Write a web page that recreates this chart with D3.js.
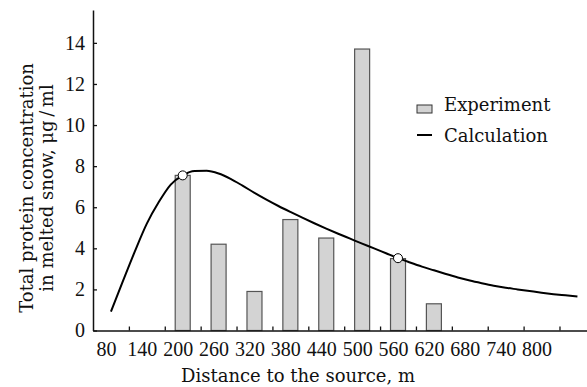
<!DOCTYPE html>
<html>
<head>
<meta charset="utf-8">
<script src="https://cdn.jsdelivr.net/npm/d3@7"></script>
<style>
  body { margin: 0; background: #fff; }
  svg { display: block; }
</style>
</head>
<body>
<figure id="chart" style="margin:0"></figure>
<script>
// x axis categories (tick labels) and boundary tick marks between them
const categories = [80, 140, 200, 260, 320, 380, 440, 500, 560, 620, 680, 740, 800];
const tickBounds = [110, 170, 230, 290, 350, 410, 470, 530, 590, 650, 710, 770, 830];
const yTicks = [0, 2, 4, 6, 8, 10, 12, 14];

// experiment bars
const barDistances = [200, 260, 320, 380, 440, 500, 560, 620];
const experiment = [7.55, 4.2, 1.9, 5.4, 4.5, 13.7, 3.5, 1.3];

// calculated curve
const calcDistances = [80, 100, 120, 140, 160, 180, 200, 220, 240, 260, 280, 300, 320, 340, 360,
  380, 400, 420, 440, 460, 480, 500, 520, 540, 560, 580, 600, 620, 640, 660, 680, 700, 720,
  740, 760, 780, 800, 820, 840, 860];
const calcValues = [0.92, 2.4, 3.85, 5.2, 6.25, 7.1, 7.55, 7.76, 7.77, 7.64, 7.38, 7.05, 6.7,
  6.37, 6.06, 5.77, 5.49, 5.22, 4.96, 4.71, 4.47, 4.23, 4.0, 3.76, 3.52, 3.31, 3.11, 2.93,
  2.75, 2.58, 2.43, 2.3, 2.18, 2.08, 2.0, 1.92, 1.84, 1.77, 1.71, 1.65];

// matched points (open circles)
const markDistances = [200, 560];
const markValues = [7.55, 3.52];

const W = 587, H = 387;
const numFont = "'Liberation Serif', 'Times New Roman', serif";
const lblFont = "'DejaVu Serif', serif";

const svg = d3.select("#chart").append("svg")
  .attr("width", W)
  .attr("height", H);

const x = d3.scaleLinear().domain([50, 876]).range([93, 587]);
const y = d3.scaleLinear().domain([0, 15.6]).range([330.5, 10]);

// bars
svg.append("g").selectAll("rect")
  .data(barDistances)
  .enter()
  .append("rect")
  .attr("x", (d) => x(d) - 7.5)
  .attr("y", (d, i) => y(experiment[i]))
  .attr("width", 15)
  .attr("height", (d, i) => y(0) - y(experiment[i]))
  .attr("fill", "#d3d3d3")
  .attr("stroke", "#555")
  .attr("stroke-width", 1.2);

// x axis: tick marks pointing up
const xAxis = svg.append("g")
  .attr("transform", "translate(0," + y(0) + ")")
  .call(d3.axisBottom(x).tickValues(tickBounds).tickSizeInner(-4).tickSizeOuter(0).tickFormat(""));
xAxis.select(".domain").attr("stroke", "#111").attr("stroke-width", 1.5);
xAxis.selectAll(".tick line").attr("stroke", "#111").attr("stroke-width", 1.3);

// x labels
const xLab = svg.append("g")
  .attr("transform", "translate(-5," + y(0) + ")")
  .call(d3.axisBottom(x).tickValues(categories).tickSize(0).tickPadding(11));
xLab.select(".domain").remove();
xLab.selectAll("text")
  .style("font-family", numFont).style("font-size", "20px").style("fill", "#111");

// y axis
const yAxis = svg.append("g")
  .attr("transform", "translate(93,0)")
  .call(d3.axisLeft(y).tickValues(yTicks).tickSizeInner(-4).tickSizeOuter(0).tickPadding(8));
yAxis.select(".domain").attr("stroke", "#111").attr("stroke-width", 1.5);
yAxis.selectAll(".tick line").attr("stroke", "#111").attr("stroke-width", 1.3);
yAxis.selectAll("text")
  .attr("x", -8)
  .style("font-family", numFont).style("font-size", "20px").style("fill", "#111");

// calculated line
const line = d3.line()
  .x((d) => x(d))
  .y((d, i) => y(calcValues[i]))
  .curve(d3.curveMonotoneX);

svg.append("path")
  .datum(calcDistances)
  .attr("d", line)
  .attr("fill", "none")
  .attr("stroke", "#000")
  .attr("stroke-width", 2);

svg.append("g").selectAll("circle")
  .data(markDistances)
  .enter()
  .append("circle")
  .attr("cx", (d) => x(d))
  .attr("cy", (d, i) => y(markValues[i]))
  .attr("r", 4.5)
  .attr("fill", "#fff")
  .attr("stroke", "#000")
  .attr("stroke-width", 1);

// legend
const leg = svg.append("g")
  .style("font-family", lblFont).style("font-size", "18px").style("fill", "#111");
leg.append("rect")
  .attr("x", 417).attr("y", 105)
  .attr("width", 15).attr("height", 8)
  .attr("fill", "#d3d3d3").attr("stroke", "#333").attr("stroke-width", 1);
leg.append("text").attr("x", 444).attr("y", 111).text("Experiment");
leg.append("line")
  .attr("x1", 417).attr("x2", 432).attr("y1", 135).attr("y2", 135)
  .attr("stroke", "#000").attr("stroke-width", 2);
leg.append("text").attr("x", 444).attr("y", 142).text("Calculation");

// axis titles
svg.append("text")
  .attr("x", 298)
  .attr("y", 382)
  .attr("text-anchor", "middle")
  .style("font-family", lblFont).style("font-size", "18px").style("fill", "#111")
  .text("Distance to the source, m");

const yTitle = svg.append("text")
  .attr("text-anchor", "middle")
  .attr("transform", "translate(0,188)rotate(-90)")
  .style("font-family", lblFont).style("font-size", "18px").style("fill", "#111");
yTitle.append("tspan").attr("x", 0).attr("y", 33).text("Total protein concentration");
yTitle.append("tspan").attr("x", 0).attr("y", 53).text("in melted snow, \u03bcg\u2009/\u2009ml");
</script>
</body>
</html>
